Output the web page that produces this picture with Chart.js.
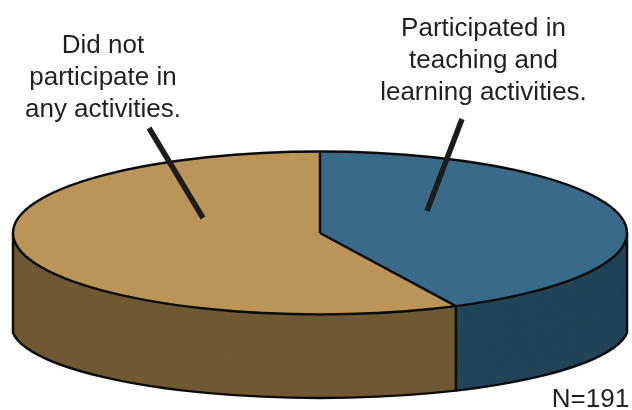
<!DOCTYPE html>
<html><head><meta charset="utf-8">
<style>html,body{margin:0;padding:0;background:#fff}#w{position:relative;width:632px;height:410px}canvas{display:block}</style>
<script src="https://cdn.jsdelivr.net/npm/chart.js@4"></script></head>
<body><div id="w"><canvas id="c" width="632" height="410"></canvas></div>
<script>
const categories = ['Participated in teaching and learning activities.', 'Did not participate in any activities.'];
const shares = [42.7, 57.3];
const topColours = ['#3a6a8a', '#bb9558'];
const sideColours = ['#234558', '#715a33'];
const labelLeft = ['Did not', 'participate in', 'any activities.'];
const labelRight = ['Participated in', 'teaching and', 'learning activities.'];
const note = 'N=191';

const CX = 320;
const TOP = { y: 233, rx: 307, ry: 81.5 }, BOTTOM = { y: 325, rx: 309, ry: 73 };
const STEPS = 184;
function place(ctx, arc, cy, rx, ry) {
  ctx.translate(CX, cy);
  ctx.scale(rx / arc.outerRadius, ry / arc.outerRadius);
  ctx.translate(-arc.x, -arc.y);
}
const tilt = {
  id: 'tilt',
  beforeDatasetsDraw(chart) {
    const ctx = chart.ctx, arcs = chart.getDatasetMeta(0).data;
    const clipWall = () => { ctx.beginPath(); ctx.rect(CX - TOP.rx, 0, TOP.rx * 2, 410); ctx.clip(); };
    // wall: stacked copies of each slice, lowest first, trimmed to the silhouette
    ctx.save(); clipWall();
    for (let s = STEPS; s > 0; s--) {
      const t = s / STEPS;
      const cy = TOP.y + (BOTTOM.y - TOP.y) * t, ry = TOP.ry + (BOTTOM.ry - TOP.ry) * t;
      const rx = TOP.rx + (BOTTOM.rx - TOP.rx) * t;
      arcs.forEach((arc, i) => {
        const o = arc.options, bg = o.backgroundColor;
        o.backgroundColor = sideColours[i];
        ctx.save(); place(ctx, arc, cy, rx, ry); arc.draw(ctx); ctx.restore();
        o.backgroundColor = bg;
      });
    }
    ctx.strokeStyle = '#0c0c0c'; ctx.lineWidth = 2.5;
    // lower outline of the wall
    ctx.beginPath(); ctx.ellipse(CX, BOTTOM.y, BOTTOM.rx, BOTTOM.ry, 0, 0, Math.PI); ctx.stroke();
    ctx.restore();
    ctx.save(); ctx.strokeStyle = '#0c0c0c'; ctx.lineWidth = 2.5; ctx.lineCap = 'round';
    // wall edges, at the silhouette and at the visible slice boundary
    const cornerDrop = BOTTOM.ry * Math.sqrt(1 - (TOP.rx / BOTTOM.rx) ** 2);
    [-1, 1].forEach(side => {
      ctx.beginPath();
      ctx.moveTo(CX + side * TOP.rx, TOP.y);
      ctx.lineTo(CX + side * TOP.rx, BOTTOM.y + cornerDrop);
      ctx.stroke();
    });
    const a = arcs[0].endAngle;
    ctx.beginPath();
    ctx.moveTo(CX + TOP.rx * Math.cos(a), TOP.y + TOP.ry * Math.sin(a));
    ctx.lineTo(CX + TOP.rx * Math.cos(a), BOTTOM.y + BOTTOM.ry * Math.sin(a));
    ctx.stroke();
    ctx.restore();
    // top face
    arcs.forEach(arc => { ctx.save(); place(ctx, arc, TOP.y, TOP.rx, TOP.ry); arc.draw(ctx); ctx.restore(); });
    // top face outline, constant stroke width on the ellipse
    ctx.save(); ctx.strokeStyle = '#0c0c0c'; ctx.lineWidth = 2.5;
    ctx.beginPath(); ctx.ellipse(CX, TOP.y, TOP.rx, TOP.ry, 0, 0, Math.PI * 2); ctx.stroke();
    arcs.forEach(arc => {
      const e = arc.endAngle;
      ctx.beginPath(); ctx.moveTo(CX, TOP.y);
      ctx.lineTo(CX + TOP.rx * Math.cos(e), TOP.y + TOP.ry * Math.sin(e)); ctx.stroke();
    });
    ctx.restore();
    return false;
  },
  afterDraw(chart) {
    const ctx = chart.ctx;
    ctx.save();
    ctx.strokeStyle = '#1d1b1c'; ctx.lineWidth = 5.5;
    [[149, 128, 203, 218], [462, 119, 427, 211]].forEach(([a, b, c, d]) => {
      ctx.beginPath(); ctx.moveTo(a, b); ctx.lineTo(c, d); ctx.stroke();
    });
    ctx.fillStyle = '#231f20'; ctx.textAlign = 'center'; ctx.textBaseline = 'alphabetic';
    ctx.font = '26px "Liberation Sans", Arial, sans-serif';
    labelLeft.forEach((t, i) => ctx.fillText(t, 103, 53 + i * 32));
    labelRight.forEach((t, i) => ctx.fillText(t, 483.5, 36 + i * 32));
    ctx.fillText(note, 590.5, 407);
    ctx.restore();
  }
};
new Chart(document.getElementById('c'), {
  type: 'pie',
  data: { labels: categories, datasets: [{ data: shares, backgroundColor: topColours, borderWidth: 0 }] },
  options: {
    responsive: false, animation: false,
    plugins: { legend: { display: false }, tooltip: { enabled: false } }
  },
  plugins: [tilt]
});
</script></body></html>
